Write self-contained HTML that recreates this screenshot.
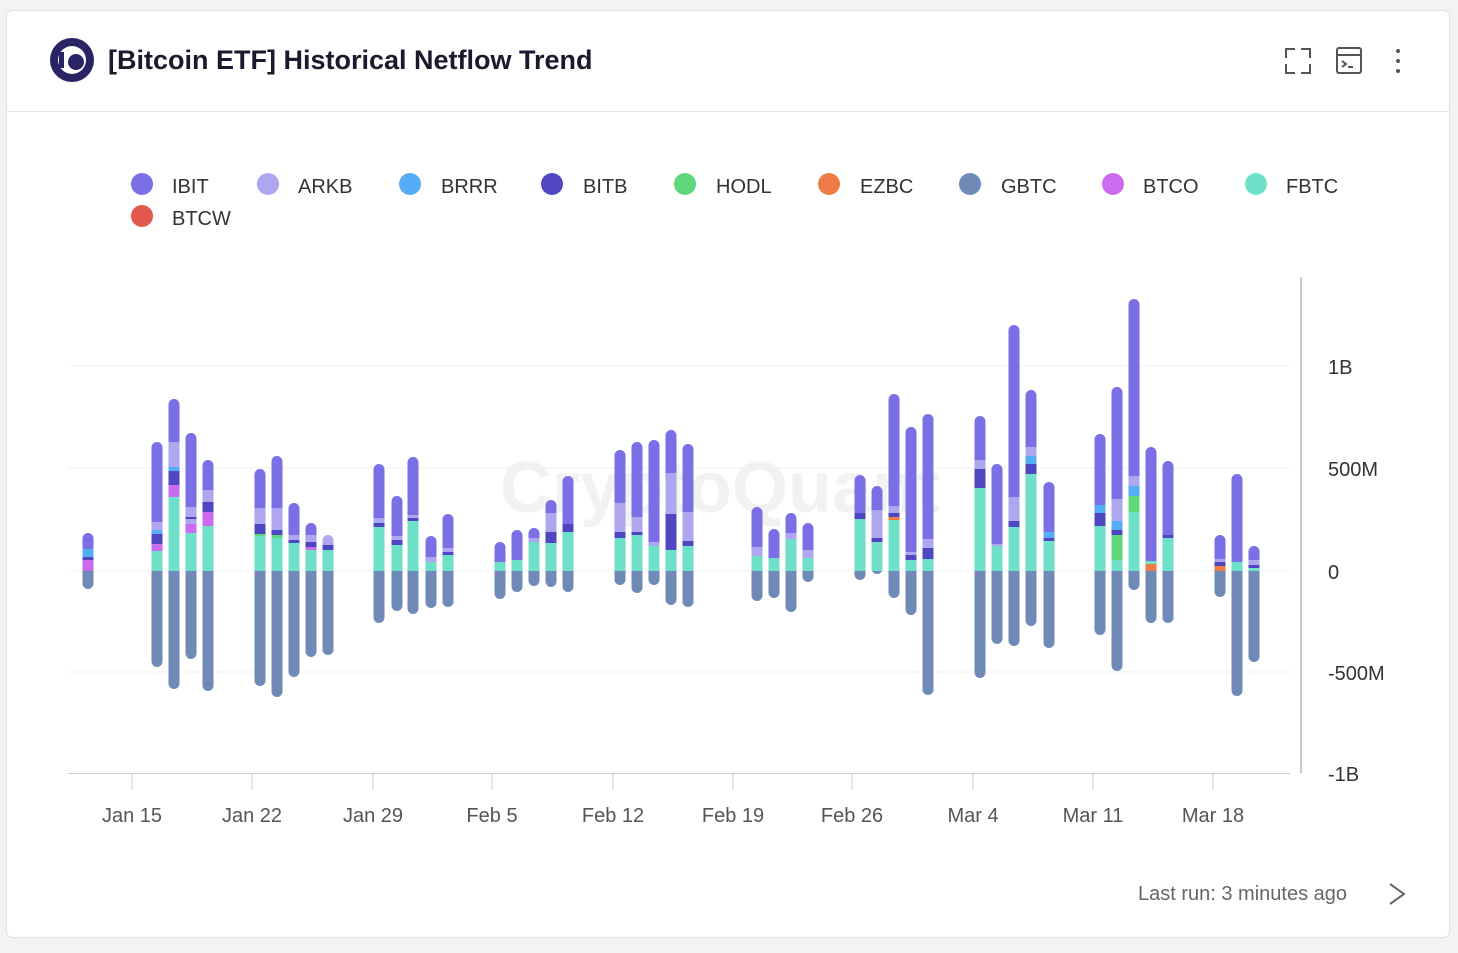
<!DOCTYPE html>
<html><head><meta charset="utf-8"><style>
html,body{margin:0;padding:0;background:#f3f3f3;}
body{width:1458px;height:948px;overflow:hidden;font-family:"Liberation Sans",sans-serif;}
</style></head><body>
<svg id="s" width="1458" height="948" xmlns="http://www.w3.org/2000/svg" font-family="Liberation Sans, sans-serif">
<rect x="6.5" y="10.5" width="1443" height="927" rx="6" fill="#fff" stroke="#e2e2e2"/>
<line x1="7" y1="111.5" x2="1449" y2="111.5" stroke="#e6e6e6"/>
<circle cx="72" cy="60" r="22" fill="#2a2466"/>
<circle cx="72" cy="60" r="14" fill="#fff"/>
<circle cx="76" cy="62" r="8" fill="#2a2466"/>
<rect x="59" y="52" width="5" height="16" fill="#2a2466"/>
<text x="108" y="69" font-size="27" font-weight="bold" fill="#1a1a2e">[Bitcoin ETF] Historical Netflow Trend</text>
<g fill="none" stroke="#555" stroke-width="2">
<path d="M1286 58v-9h9M1301 49h9v9M1310 64v9h-9M1295 73h-9v-9"/>
<rect x="1337" y="48" width="24" height="25" rx="2"/>
<path d="M1337 55h24M1342 61l4 3-4 3M1348 67h5"/>
</g>
<g fill="#555"><circle cx="1398" cy="51" r="2"/><circle cx="1398" cy="61" r="2"/><circle cx="1398" cy="71" r="2"/></g>
<g font-size="20" fill="#333">
<circle cx="142" cy="184" r="11" fill="#7b6fe6"/><text x="172" y="193">IBIT</text>
<circle cx="268" cy="184" r="11" fill="#aea6ee"/><text x="298" y="193">ARKB</text>
<circle cx="410" cy="184" r="11" fill="#55aef5"/><text x="441" y="193">BRRR</text>
<circle cx="552" cy="184" r="11" fill="#4f46c2"/><text x="583" y="193">BITB</text>
<circle cx="685" cy="184" r="11" fill="#5fd87c"/><text x="716" y="193">HODL</text>
<circle cx="829" cy="184" r="11" fill="#ee7a45"/><text x="860" y="193">EZBC</text>
<circle cx="970" cy="184" r="11" fill="#708ab8"/><text x="1001" y="193">GBTC</text>
<circle cx="1113" cy="184" r="11" fill="#cb6cf0"/><text x="1143" y="193">BTCO</text>
<circle cx="1256" cy="184" r="11" fill="#6ee0c7"/><text x="1286" y="193">FBTC</text>
<circle cx="142" cy="216" r="11" fill="#e4574c"/><text x="172" y="225">BTCW</text>
</g>
<text x="720" y="512" font-size="72" fill="#f2f2f2" text-anchor="middle" font-weight="bold">CryptoQuant</text>
<g stroke="#f2f2f2"><line x1="68" y1="366" x2="1290" y2="366"/><line x1="68" y1="468" x2="1290" y2="468"/><line x1="68" y1="571" x2="1290" y2="571"/><line x1="68" y1="672" x2="1290" y2="672"/></g>
<line x1="68" y1="773.5" x2="1290" y2="773.5" stroke="#ccc"/>
<line x1="1301" y1="277" x2="1301" y2="773" stroke="#ccc" stroke-width="2"/>
<g font-size="20" fill="#333"><text x="1328" y="374">1B</text><text x="1328" y="476">500M</text><text x="1328" y="579">0</text><text x="1328" y="680">-500M</text><text x="1328" y="781">-1B</text></g>
<g id="xt" stroke="#ccc"></g>
<g id="xl" font-size="20" fill="#555" text-anchor="middle"></g>
<g id="bars"></g>
<text x="1138" y="900" font-size="20" fill="#666">Last run: 3 minutes ago</text>
<path d="M1390 884l14 10-14 10" fill="none" stroke="#666" stroke-width="2"/>
</svg>
<script>
var C={T:"#6ee0c7",I:"#7b6fe6",A:"#aea6ee",R:"#55aef5",B:"#4f46c2",H:"#5fd87c",E:"#ee7a45",G:"#708ab8",O:"#cb6cf0",W:"#e4574c"};
var D=[
[88,[["O",560],["B",557],["R",549],["I",533]],589],
[157,[["T",551],["O",544],["B",534],["R",530],["A",522],["I",442]],667],
[174,[["T",497],["O",485],["B",471],["R",467],["A",442],["I",399]],689],
[191,[["T",533],["O",524],["A",519],["B",517],["A",507],["I",433]],659],
[208,[["T",526],["O",512],["B",502],["A",490],["I",460]],691],
[260,[["T",536],["H",534],["B",524],["A",508],["I",469]],686],
[277,[["T",538],["H",535],["B",530],["A",508],["I",456]],697],
[294,[["T",543],["B",540],["A",535],["I",503]],677],
[311,[["T",550],["O",547],["B",542],["A",535],["I",523]],657],
[328,[["T",550],["B",545],["A",535]],655],
[379,[["T",527],["B",523],["A",518],["I",464]],623],
[397,[["T",545],["B",540],["A",536],["I",496]],611],
[413,[["T",521],["B",518],["A",515],["I",457]],614],
[431,[["T",562],["A",557],["I",536]],608],
[448,[["T",555],["B",552],["A",548],["I",514]],607],
[500,[["T",562],["I",542]],599],
[517,[["T",560],["I",530]],592],
[534,[["T",542],["A",538],["I",528]],586],
[551,[["T",543],["B",532],["A",513],["I",500]],587],
[568,[["T",532],["B",524],["I",476]],592],
[620,[["T",538],["B",532],["A",503],["I",450]],585],
[637,[["T",535],["B",532],["A",517],["I",442]],593],
[654,[["T",546],["A",542],["I",440]],585],
[671,[["T",550],["B",514],["A",473],["I",430]],605],
[688,[["T",546],["B",541],["A",512],["I",444]],607],
[757,[["T",556],["A",547],["I",507]],601],
[774,[["T",558],["I",529]],598],
[791,[["T",539],["A",533],["I",513]],612],
[808,[["T",558],["A",550],["I",523]],582],
[860,[["T",519],["B",513],["I",475]],580],
[877,[["T",542],["B",538],["A",510],["I",486]],574],
[894,[["T",520],["E",517],["B",513],["A",506],["I",394]],598],
[911,[["T",560],["B",555],["A",552],["I",427]],615],
[928,[["T",559],["B",548],["A",539],["I",414]],695],
[980,[["T",488],["B",469],["A",460],["I",416]],678],
[997,[["T",546],["A",544],["I",464]],644],
[1014,[["T",527],["B",521],["A",497],["I",325]],646],
[1031,[["T",474],["B",464],["R",456],["A",447],["I",390]],626],
[1049,[["T",541],["B",538],["R",532],["I",482]],648],
[1100,[["T",526],["B",513],["R",505],["I",434]],635],
[1117,[["T",560],["H",535],["B",530],["R",521],["A",499],["I",387]],671],
[1134,[["T",512],["H",496],["R",486],["A",476],["I",299]],590],
[1151,[["E",564],["T",561],["I",447]],623],
[1168,[["T",538],["B",535],["I",461]],623],
[1220,[["E",566],["B",562],["A",559],["I",535]],597],
[1237,[["T",562],["I",474]],696],
[1254,[["T",568],["B",565],["A",560],["I",546]],662]];
var ns="http://www.w3.org/2000/svg",g=document.getElementById("bars"),h="",Z=571,w=11;
D.forEach(function(b,i){var x=b[0]-w/2,top=b[1][b[1].length-1][1],bot=b[2];
h+='<clipPath id="c'+i+'"><rect x="'+x+'" y="'+top+'" width="'+w+'" height="'+(bot-top)+'" rx="5.5"/></clipPath><g clip-path="url(#c'+i+')">';
h+='<rect x="'+x+'" y="'+Z+'" width="'+w+'" height="'+(bot-Z)+'" fill="'+C.G+'"/>';
var prev=Z;b[1].forEach(function(s){h+='<rect x="'+x+'" y="'+s[1]+'" width="'+w+'" height="'+(prev-s[1])+'" fill="'+C[s[0]]+'"/>';prev=s[1];});
h+='</g>';});
g.innerHTML=h;
var L=[[132,"Jan 15"],[252,"Jan 22"],[373,"Jan 29"],[492,"Feb 5"],[613,"Feb 12"],[733,"Feb 19"],[852,"Feb 26"],[973,"Mar 4"],[1093,"Mar 11"],[1213,"Mar 18"]],t="",l="";
L.forEach(function(a){t+='<line x1="'+a[0]+'" y1="774" x2="'+a[0]+'" y2="790"/>';l+='<text x="'+a[0]+'" y="822">'+a[1]+'</text>';});
document.getElementById("xt").innerHTML=t;document.getElementById("xl").innerHTML=l;
</script>
</body></html>
